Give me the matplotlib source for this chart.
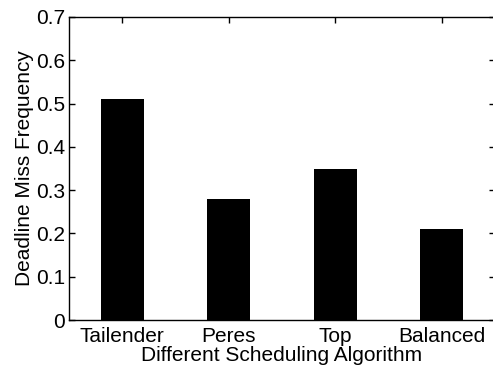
import matplotlib
matplotlib.use("Agg")
import matplotlib.pyplot as plt

categories = ["Tailender", "Peres", "Top", "Balanced"]
values = [0.51, 0.28, 0.35, 0.21]
yticks = [0, 0.1, 0.2, 0.3, 0.4, 0.5, 0.6, 0.7]

plt.rcParams['font.family'] = ['Liberation Sans', 'DejaVu Sans']
fig = plt.figure(figsize=(4.93, 3.67), dpi=100)
ax = fig.add_axes([69/493, 47/367, 426/493, 303/367])
x = list(range(1, len(categories) + 1))
ax.bar(x, values, width=0.4, color='black')
ax.set_xlim(0.5, 4.5)
ax.set_ylim(0, 0.7)
ax.set_xticks(x)
ax.set_xticklabels(categories)
ax.set_yticks(yticks)
ax.set_yticklabels(["0", "0.1", "0.2", "0.3", "0.4", "0.5", "0.6", "0.7"])
ax.tick_params(direction='in', top=True, right=True, labelsize=15, length=4, width=1, pad=3)
ax.tick_params(axis='x', pad=5)
ax.set_xlabel("Different Scheduling Algorithm", fontsize=15, labelpad=0)
ax.set_ylabel("Deadline Miss Frequency", fontsize=15, labelpad=1)
for s in ax.spines.values():
    s.set_linewidth(1)
fig.savefig("out.png", dpi=100)
